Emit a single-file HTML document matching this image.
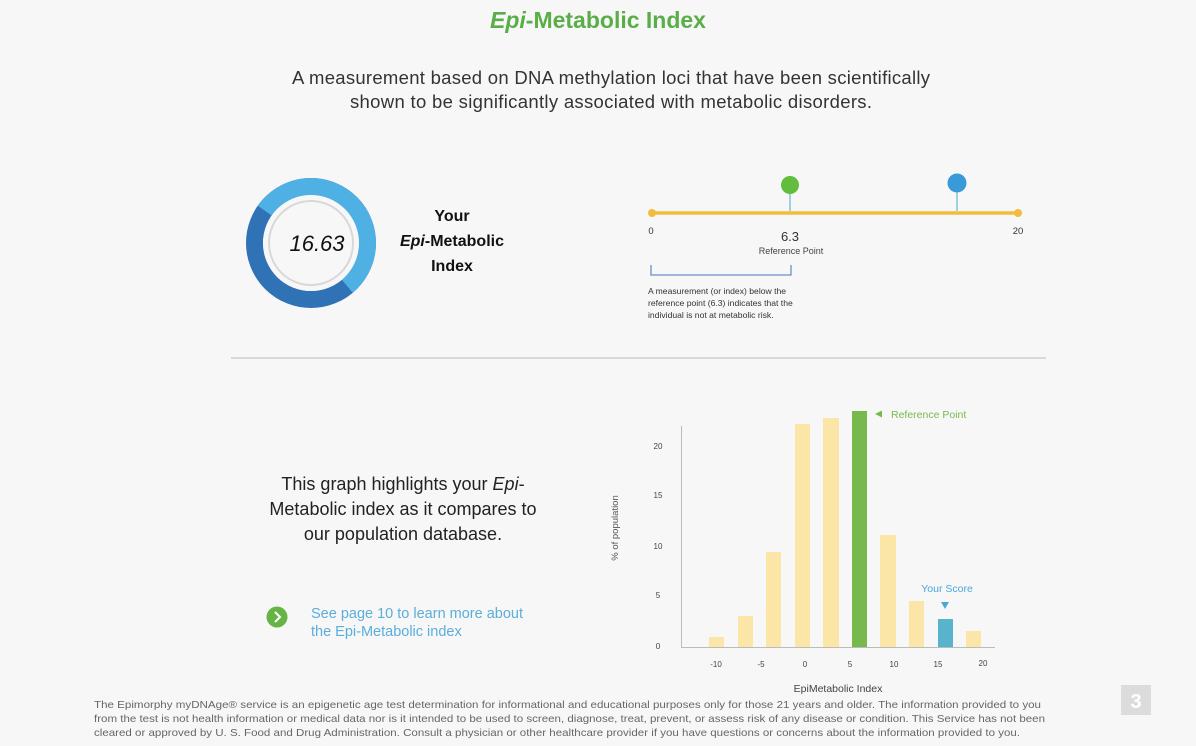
<!DOCTYPE html>
<html><head><meta charset="utf-8"><style>
html,body{margin:0;padding:0;background:#f7f7f7;}
svg{display:block;font-family:"Liberation Sans",sans-serif;}
</style></head><body>
<svg width="1196" height="746" viewBox="0 0 1196 746" xmlns="http://www.w3.org/2000/svg">
<rect width="1196" height="746" fill="#f7f7f7"/>
<text x="598" y="28" text-anchor="middle" font-size="23" font-weight="bold" fill="#5aae48"><tspan font-style="italic">Epi</tspan>-Metabolic Index</text>
<text x="611" y="84" text-anchor="middle" font-size="18.5" fill="#333" textLength="638">A measurement based on DNA methylation loci that have been scientifically</text>
<text x="611" y="108" text-anchor="middle" font-size="18.5" fill="#333" textLength="522">shown to be significantly associated with metabolic disorders.</text>

<!-- donut -->
<circle cx="311" cy="243" r="56.5" fill="none" stroke="#2f72b5" stroke-width="17"/>
<path d="M264.7 210.6 A56.5 56.5 0 1 1 347.3 286.3" fill="none" stroke="#4fb0e4" stroke-width="17"/>
<circle cx="311" cy="243" r="48" fill="#f7f7f7"/>
<circle cx="311" cy="243" r="42" fill="none" stroke="#d8d8d8" stroke-width="2"/>
<text x="317" y="251" text-anchor="middle" font-size="22" font-style="italic" fill="#111">16.63</text>
<text x="452" y="221" text-anchor="middle" font-size="16" font-weight="bold" fill="#111">Your</text>
<text x="452" y="246" text-anchor="middle" font-size="16" font-weight="bold" fill="#111"><tspan font-style="italic">Epi</tspan>-Metabolic</text>
<text x="452" y="271" text-anchor="middle" font-size="16" font-weight="bold" fill="#111">Index</text>

<!-- slider -->
<line x1="652" y1="213" x2="1018" y2="213" stroke="#f2bd3d" stroke-width="3.5"/>
<circle cx="652" cy="213" r="4" fill="#f2bd3d"/>
<circle cx="1018" cy="213" r="4" fill="#f2bd3d"/>
<line x1="790" y1="192" x2="790" y2="211" stroke="#9fd0e0" stroke-width="2"/>
<circle cx="790" cy="185" r="9" fill="#62bd3e"/>
<line x1="957" y1="190" x2="957" y2="211" stroke="#9fd0e0" stroke-width="2"/>
<circle cx="957" cy="183" r="9.5" fill="#3a9ad8"/>
<text x="651" y="234" text-anchor="middle" font-size="9.5" fill="#333">0</text>
<text x="1018" y="234" text-anchor="middle" font-size="9.5" fill="#333">20</text>
<text x="790" y="241" text-anchor="middle" font-size="13" fill="#333">6.3</text>
<text x="791" y="254" text-anchor="middle" font-size="9" fill="#444">Reference Point</text>
<path d="M651 265 V275 H791 V265" fill="none" stroke="#6a8fc9" stroke-width="1.3"/>
<text x="648" y="294" font-size="8.6" fill="#333">A measurement (or index) below the</text>
<text x="648" y="306" font-size="8.6" fill="#333">reference point (6.3) indicates that the</text>
<text x="648" y="318" font-size="8.6" fill="#333">individual is not at metabolic risk.</text>

<line x1="231" y1="358" x2="1046" y2="358" stroke="#cfcfcf" stroke-width="1.5"/>

<!-- left text -->
<text x="403" y="490" text-anchor="middle" font-size="18" fill="#222">This graph highlights your <tspan font-style="italic">Epi</tspan>-</text>
<text x="403" y="515" text-anchor="middle" font-size="18" fill="#222">Metabolic index as it compares to</text>
<text x="403" y="540" text-anchor="middle" font-size="18" fill="#222">our population database.</text>
<circle cx="277" cy="617" r="10.5" fill="#66b544"/>
<path d="M275 612 L280 617 L275 622" fill="none" stroke="#fff" stroke-width="2"/>
<text x="311" y="618" font-size="14.5" fill="#5aaedb">See page 10 to learn more about</text>
<text x="311" y="636" font-size="14.5" fill="#5aaedb">the Epi-Metabolic index</text>

<!-- chart -->
<g fill="#fbe6a8">
<rect x="709" y="637" width="15" height="10"/>
<rect x="738" y="616" width="15" height="31"/>
<rect x="766" y="552" width="15" height="95"/>
<rect x="795" y="424" width="15" height="223"/>
<rect x="823" y="418" width="16" height="229"/>
<rect x="880" y="535" width="16" height="112"/>
<rect x="909" y="601" width="15" height="46"/>
<rect x="966" y="631" width="15" height="16"/>
</g>
<rect x="852" y="411" width="15" height="236" fill="#78b94e"/>
<rect x="938" y="619" width="15" height="28" fill="#5ab3cc"/>
<line x1="681.5" y1="426" x2="681.5" y2="648" stroke="#bbb"/>
<line x1="681" y1="647.5" x2="995" y2="647.5" stroke="#bbb"/>
<g font-size="8" fill="#444" text-anchor="middle">
<text x="658" y="449">20</text><text x="658" y="498">15</text><text x="658" y="549">10</text><text x="658" y="598">5</text><text x="658" y="649">0</text>
<text x="716" y="667">-10</text><text x="761" y="667">-5</text><text x="805" y="667">0</text><text x="850" y="667">5</text><text x="894" y="667">10</text><text x="938" y="667">15</text><text x="983" y="666">20</text>
</g>
<text transform="translate(618,528) rotate(-90)" text-anchor="middle" font-size="9.5" fill="#555">% of population</text>
<text x="838" y="692" text-anchor="middle" font-size="10.5" fill="#444">EpiMetabolic Index</text>
<path d="M875 414 L882 410.5 L882 417.5 Z" fill="#78b94e"/>
<text x="891" y="418" font-size="10.5" fill="#78b94e">Reference Point</text>
<text x="947" y="592" text-anchor="middle" font-size="10.5" fill="#4aa8d8">Your Score</text>
<path d="M941 602 L949 602 L945 609 Z" fill="#4aa8d8"/>

<!-- footer -->
<g font-size="10.5" fill="#666">
<text x="94" y="708" textLength="947" lengthAdjust="spacingAndGlyphs">The Epimorphy myDNAge® service is an epigenetic age test determination for informational and educational purposes only for those 21 years and older. The information provided to you</text>
<text x="94" y="722" textLength="951" lengthAdjust="spacingAndGlyphs">from the test is not health information or medical data nor is it intended to be used to screen, diagnose, treat, prevent, or assess risk of any disease or condition. This Service has not been</text>
<text x="94" y="736" textLength="926" lengthAdjust="spacingAndGlyphs">cleared or approved by U. S. Food and Drug Administration. Consult a physician or other healthcare provider if you have questions or concerns about the information provided to you.</text>
</g>
<rect x="1121" y="685" width="30" height="30" fill="#dcdcdc"/>
<text x="1136" y="708" text-anchor="middle" font-size="20" font-weight="bold" fill="#fff">3</text>
</svg>
</body></html>
